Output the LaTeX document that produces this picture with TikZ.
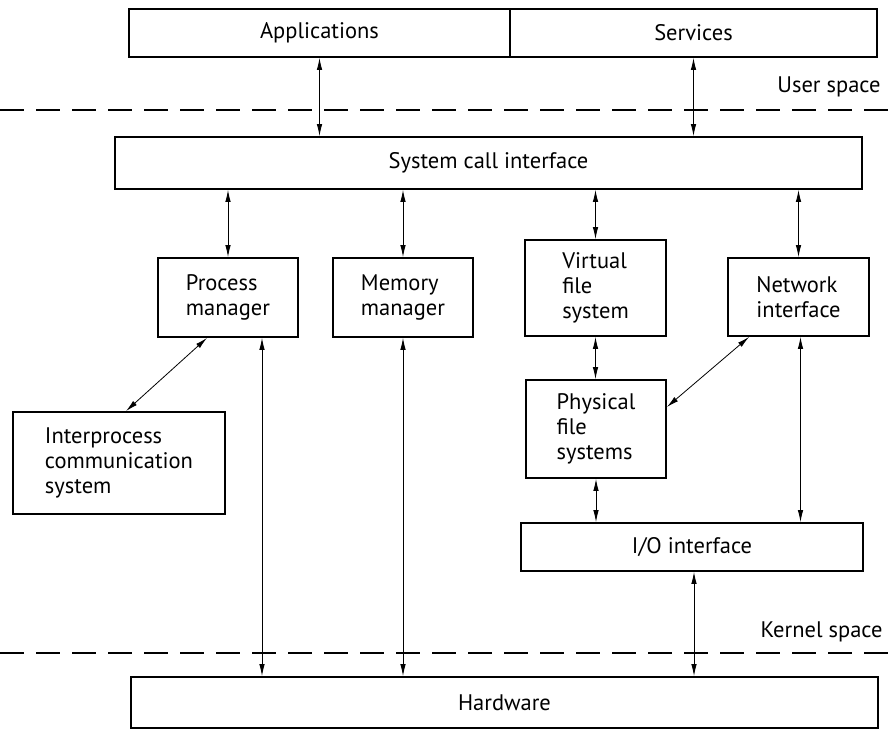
\documentclass[tikz,border=0pt]{standalone}
\usepackage{fontspec}
\setmainfont{PT Sans}
\usetikzlibrary{arrows.meta}

\begin{document}
\begin{tikzpicture}[x=1pt,y=-1pt,
  blk/.style={draw,line width=1.8pt,inner sep=0pt,align=left,font=\fontsize{22.5}{25}\selectfont},
  arr/.style={line width=.8pt,{Latex[length=12pt,width=5.5pt]}-{Latex[length=12pt,width=5.5pt]}},
  sep/.style={line width=1.1pt,dash pattern=on 24pt off 12pt}]
  \useasboundingbox (0,0) rectangle (888,730);
  % user space
  \node[blk,minimum width=381pt,minimum height=48pt] (apps) at (319.5,33) {Applications};
  \node[blk,minimum width=367pt,minimum height=48pt] (serv) at (693.5,33) {Services};
  \node[font=\fontsize{22.5}{25}\selectfont,anchor=east] (user) at (884,87) {User space};
  \draw[sep] (0,110) -- (888,110);
  \node[blk,minimum width=747pt,minimum height=52pt] (sci) at (488.5,163) {System call interface};
  % kernel modules
  \node[blk,minimum width=140pt,minimum height=79pt] (pm) at (228,297.5) {Process\\manager};
  \node[blk,minimum width=140pt,minimum height=79pt] (mm) at (403,297.5) {Memory\\manager};
  \node[blk,minimum width=141pt,minimum height=96pt] (vfs) at (595.5,288) {Virtual\\file\\system};
  \node[blk,minimum width=141pt,minimum height=78pt] (ni) at (798.5,297) {Network\\interface};
  \node[blk,minimum width=140pt,minimum height=98pt] (pfs) at (596,429) {Physical\\file\\systems};
  \node[blk,minimum width=212pt,minimum height=102pt] (ipc) at (119,463) {Interprocess\\communication\\system};
  \node[blk,minimum width=342pt,minimum height=48pt] (io) at (692,547) {I/O interface};
  % hardware
  \node[font=\fontsize{22.5}{25}\selectfont,anchor=east] (kern) at (886,632) {Kernel space};
  \draw[sep] (0,653) -- (888,653);
  \node[blk,minimum width=747pt,minimum height=51pt] (hw) at (504.5,702.5) {Hardware};
  % connectors
  \draw[arr] (apps.south) -- (apps.south |- sci.north);
  \draw[arr] (serv.south) -- (serv.south |- sci.north);
  \foreach \m in {pm,mm,vfs,ni}
    \draw[arr] (\m.north |- sci.south) -- (\m.north);
  \draw[arr] ([xshift=-21pt]pm.south) -- ([xshift=7pt]ipc.north);
  \draw[arr] ([xshift=34pt]pm.south) -- ([xshift=34pt]pm.south |- hw.north);
  \draw[arr] (mm.south) -- (mm.south |- hw.north);
  \draw[arr] (vfs.south) -- (vfs.south |- pfs.north);
  \draw[arr] (pfs.south) -- (pfs.south |- io.north);
  \draw[arr] ([xshift=22pt]ni.south west) -- ([yshift=22pt]pfs.east);
  \draw[arr] ([xshift=2pt]ni.south) -- ([xshift=2pt]ni.south |- io.north);
  \draw[arr] ([xshift=2pt]io.south) -- ([xshift=2pt]io.south |- hw.north);
\end{tikzpicture}
\end{document}
